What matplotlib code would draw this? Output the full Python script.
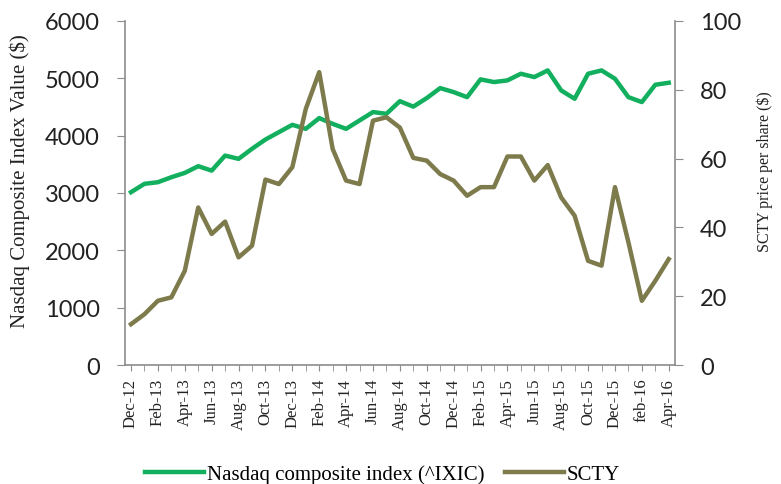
import numpy as np
import matplotlib
matplotlib.use("Agg")
import matplotlib.pyplot as plt
from matplotlib.ticker import MultipleLocator

# ── Data ──────────────────────────────────────────────────────────────────────

months = ["Dec-12", "Jan-13", "Feb-13", "Mar-13", "Apr-13", "May-13", "Jun-13",
          "Jul-13", "Aug-13", "Sep-13", "Oct-13", "Nov-13", "Dec-13", "Jan-14",
          "Feb-14", "Mar-14", "Apr-14", "May-14", "Jun-14", "Jul-14", "Aug-14",
          "Sep-14", "Oct-14", "Nov-14", "Dec-14", "Jan-15", "Feb-15", "Mar-15",
          "Apr-15", "May-15", "Jun-15", "Jul-15", "Aug-15", "Sep-15", "Oct-15",
          "Nov-15", "Dec-15", "Jan-16", "feb-16", "Mar-16", "Apr-16"]

nasdaq = [3014, 3160, 3188, 3275, 3350, 3467, 3390, 3652, 3595, 3770,
          3932, 4060, 4188, 4118, 4305, 4205, 4118, 4264, 4410, 4380,
          4600, 4505, 4654, 4828, 4758, 4670, 4980, 4933, 4962, 5078,
          5020, 5136, 4787, 4642, 5078, 5136, 4991, 4670, 4584, 4886,
          4921]

scty = [11.9, 14.8, 18.7, 19.7, 27.4, 45.8, 38.1, 41.7, 31.3, 34.7,
        53.9, 52.6, 57.5, 74.4, 85.1, 62.8, 53.6, 52.6, 71.0, 72.0,
        69.0, 60.2, 59.4, 55.5, 53.6, 49.2, 51.7, 51.7, 60.6, 60.6,
        53.6, 58.1, 48.7, 43.4, 30.3, 28.9, 51.7, 35.7, 18.7, 24.5,
        30.8]

GREEN = "#12b05e"
OLIVE = "#7d7a4c"
SPINE = "#8c8c8c"
TEXT = "#222222"

# ── Plot ──────────────────────────────────────────────────────────────────────

fig = plt.figure(figsize=(7.81, 4.85), dpi=100)
ax = fig.add_axes([0.160, 0.245, 0.704, 0.710])
ax2 = ax.twinx()

x = np.arange(len(months))
l1, = ax.plot(x, nasdaq, color=GREEN, lw=3.2, solid_joinstyle="round",
              label="Nasdaq composite index (^IXIC)")
l2, = ax2.plot(x, scty, color=OLIVE, lw=3.2, solid_joinstyle="round",
               label="SCTY")

ax.set_xlim(-0.45, len(months) - 1 + 0.45)
ax.set_ylim(0, 6000)
ax2.set_ylim(0, 100)
ax.yaxis.set_major_locator(MultipleLocator(1000))
ax2.yaxis.set_major_locator(MultipleLocator(20))

ax.set_xticks(x[::2])
ax.set_xticklabels(months[::2], rotation=90, family="Liberation Serif",
                   fontsize=12)
ax.set_xticks(x, minor=True)

for a in (ax, ax2):
    a.spines["top"].set_visible(False)
    for s in ("left", "right", "bottom"):
        a.spines[s].set_color(SPINE)
        a.spines[s].set_linewidth(1.2)
ax.spines["right"].set_visible(False)
ax2.spines["left"].set_visible(False)
ax2.spines["bottom"].set_visible(False)

for a in (ax, ax2):
    a.tick_params(axis="y", colors=SPINE, labelcolor=TEXT, length=6,
                  labelsize=17, pad=12)
ax.tick_params(axis="x", which="both", colors=SPINE, labelcolor=TEXT,
               length=4, pad=5)
for lab in ax.get_yticklabels() + ax2.get_yticklabels():
    lab.set_family("Lato")

ax.set_ylabel("Nasdaq Composite Index Value ($)", family="Liberation Serif",
              fontsize=15, color=TEXT)
ax.yaxis.set_label_coords(-0.172, 0.538)
ax2.set_ylabel("SCTY price per share ($)", family="Liberation Serif",
               fontsize=11.5, color=TEXT)
ax2.yaxis.set_label_coords(1.149, 0.564)

fig.legend(handles=[l1, l2], loc="center", bbox_to_anchor=(0.49, 0.02),
           ncol=2, frameon=False, handlelength=2.8, handletextpad=0.15,
           columnspacing=1.0,
           prop={"family": "Liberation Serif", "size": 15})

fig.savefig("out.png", dpi=100)
